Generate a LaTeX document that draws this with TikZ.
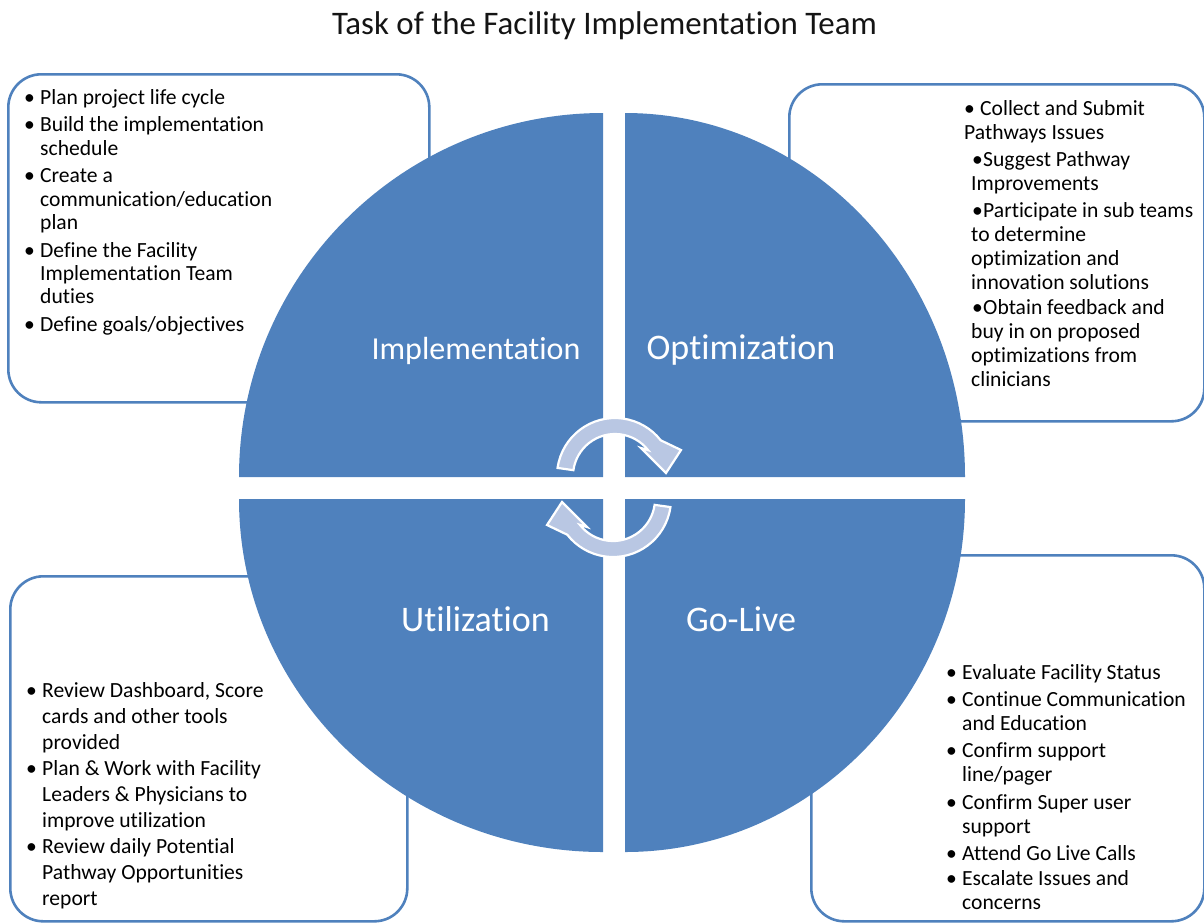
\documentclass[tikz,border=0pt]{standalone}
\usepackage{fontspec}
\setmainfont{Carlito}[Ligatures={NoCommon,NoRare,NoContextual}]
\definecolor{pieblue}{RGB}{79,129,189}
\definecolor{boxblue}{RGB}{79,129,189}
\definecolor{arrowfill}{RGB}{185,199,227}
\definecolor{titlecol}{RGB}{20,20,20}
\begin{document}
\begin{tikzpicture}[x=1pt,y=1pt,
  boxframe/.style={draw=boxblue, line width=2.6pt, fill=white, rounded corners=33pt, anchor=north west, inner sep=0pt},
  quad/.style={fill=pieblue},
  bul/.style={anchor=north west, inner sep=0pt, align=left, text=black},
  qlabel/.style={anchor=base, text=white, inner sep=0pt},
  arrowshape/.style={fill=arrowfill, draw=white, line width=2.2pt, line join=miter}
]
\useasboundingbox (0,0) rectangle (1204,-922);

% title
\node[anchor=base, inner sep=0pt, text=titlecol, font=\fontsize{32.9}{38}\selectfont] (title) at (604.5,-34) {Task of the Facility Implementation Team};

% boxes
\node[boxframe, minimum width=421pt, minimum height=328pt] (tlbox) at (7,-73) {};
\node[boxframe, minimum width=415pt, minimum height=337pt] (trbox) at (788,-83) {};
\node[boxframe, minimum width=397pt, minimum height=345pt] (blbox) at (9,-575) {};
\node[boxframe, minimum width=393pt, minimum height=366pt] (brbox) at (810,-554) {};

% pie quadrants
\fill[quad] (603,-477) -- (239,-477) arc[start angle=180, end angle=90, x radius=364, y radius=364] -- cycle;
\fill[quad] (625,-477) -- (625,-113) arc[start angle=90, end angle=0, x radius=340, y radius=364] -- cycle;
\fill[quad] (603,-499) -- (239,-499) arc[start angle=180, end angle=270, x radius=364, y radius=353] -- cycle;
\fill[quad] (625,-499) -- (965,-499) arc[start angle=0, end angle=-90, x radius=340, y radius=353] -- cycle;

% circular arrows
\begin{scope}[shift={(615,-476)}]
  \draw[arrowshape] (172:58) arc[start angle=172, end angle=38, radius=58]
    -- (66,26) -- (51,3) -- (26,28) -- (38:42) arc[start angle=38, end angle=172, radius=42] -- cycle;
\end{scope}
\begin{scope}[shift={(613,-499)}, rotate=180]
  \draw[arrowshape] (172:58) arc[start angle=172, end angle=38, radius=58]
    -- (66,26) -- (51,3) -- (26,28) -- (38:42) arc[start angle=38, end angle=172, radius=42] -- cycle;
\end{scope}

% quadrant labels
\node[qlabel, font=\fontsize{32}{38}\selectfont] (limpl) at (476,-359) {Implementation};
\node[qlabel, font=\fontsize{36}{42}\selectfont] (lopt) at (741,-359) {Optimization};
\node[qlabel, font=\fontsize{36}{42}\selectfont] (lutil) at (475.5,-631) {Utilization};
\node[qlabel, font=\fontsize{36}{42}\selectfont] (lgo) at (741,-631) {Go-Live};

% box texts
\node[bul, font=\fontsize{21.6}{23.3}\selectfont] (tltext) at (24,-86) {%
\rule{0pt}{18pt}\makebox[16pt][l]{\textbullet}Plan project life cycle\\[4.4pt]
\makebox[16pt][l]{\textbullet}Build the implementation\\
\hspace*{16pt}schedule\\[4.4pt]
\makebox[16pt][l]{\textbullet}Create a\\
\hspace*{16pt}communication/education\\
\hspace*{16pt}plan\\[4.4pt]
\makebox[16pt][l]{\textbullet}Define the Facility\\
\hspace*{16pt}Implementation Team\\
\hspace*{16pt}duties\\[4.4pt]
\makebox[16pt][l]{\textbullet}Define goals/objectives};

\node[bul, font=\fontsize{21.6}{24}\selectfont] (trtext) at (964,-97) {%
\rule{0pt}{18pt}\makebox[16pt][l]{\textbullet}Collect and Submit\\
Pathways Issues\\[3pt]
\hspace*{8pt}\makebox[11pt][l]{\textbullet}Suggest Pathway\\
\hspace*{7pt}Improvements\\[3pt]
\hspace*{8pt}\makebox[11pt][l]{\textbullet}Participate in sub teams\\
\hspace*{7pt}to determine\\
\hspace*{7pt}optimization and\\
\hspace*{7pt}innovation solutions\\[1pt]
\hspace*{8pt}\makebox[11pt][l]{\textbullet}Obtain feedback and\\
\hspace*{7pt}buy in on proposed\\
\hspace*{7pt}optimizations from\\
\hspace*{7pt}clinicians};

\node[bul, font=\fontsize{21.6}{26}\selectfont] (bltext) at (26,-679) {%
\rule{0pt}{18pt}\makebox[16pt][l]{\textbullet}Review Dashboard, Score\\
\hspace*{16pt}cards and other tools\\
\hspace*{16pt}provided\\
\makebox[16pt][l]{\textbullet}Plan \& Work with Facility\\
\hspace*{16pt}Leaders \& Physicians to\\
\hspace*{16pt}improve utilization\\
\makebox[16pt][l]{\textbullet}Review daily Potential\\
\hspace*{16pt}Pathway Opportunities\\
\hspace*{16pt}report};

\node[bul, font=\fontsize{21.6}{24}\selectfont] (brtext) at (946,-661) {%
\rule{0pt}{18pt}\makebox[16pt][l]{\textbullet}Evaluate Facility Status\\[3pt]
\makebox[16pt][l]{\textbullet}Continue Communication\\
\hspace*{16pt}and Education\\[3.5pt]
\makebox[16pt][l]{\textbullet}Confirm support\\
\hspace*{16pt}line/pager\\[3.5pt]
\makebox[16pt][l]{\textbullet}Confirm Super user\\
\hspace*{16pt}support\\[3pt]
\makebox[16pt][l]{\textbullet}Attend Go Live Calls\\[1pt]
\makebox[16pt][l]{\textbullet}Escalate Issues and\\
\hspace*{16pt}concerns};
\end{tikzpicture}
\end{document}
